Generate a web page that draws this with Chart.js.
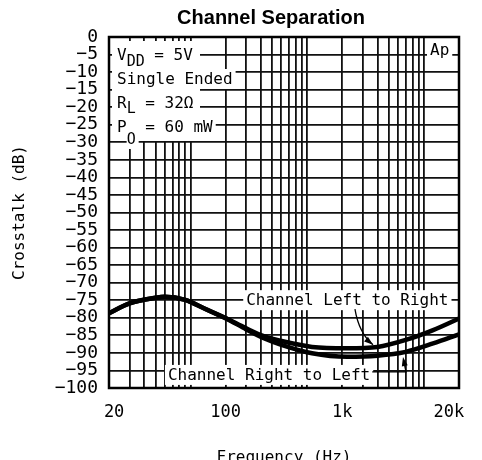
<!DOCTYPE html>
<html>
<head>
<meta charset="utf-8">
<script src="https://cdn.jsdelivr.net/npm/chart.js@4.4.1/dist/chart.umd.min.js"></script>
<style>
  html, body { margin: 0; padding: 0; background: #fff; }
</style>
</head>
<body>
<canvas id="chart" width="482" height="460"></canvas>
<script>
// curve samples (Hz, dB)
const freqs = [20, 30, 50, 60, 90, 130, 200, 300, 430, 600, 1100, 2200, 4000, 7000, 12000, 20000];
const leftToRight = [-78.7, -75.9, -74.3, -74.0, -74.9, -77.3, -80.1, -83.0, -85.3, -86.6, -88.3, -88.7, -88.3, -86.3, -83.5, -80.2];
const rightToLeft = [-78.7, -75.9, -74.3, -74.0, -74.9, -77.3, -80.1, -83.3, -85.9, -87.7, -90.1, -91.1, -90.8, -89.7, -87.3, -84.7];

// log grid lines, and the labels as they sit on the original sheet
const gridFreqs = [20, 30, 40, 50, 60, 70, 80, 90, 100, 200, 300, 400, 500, 600, 700, 800, 900,
    1000, 2000, 3000, 4000, 5000, 6000, 7000, 8000, 9000, 10000, 20000];
const xTickValues = [20, 200, 2000, 20000];
const xTickText = [" 20", "100", "1k", "20k  "];

const conditions = [
    ["V", "DD", " = 5V"],
    ["Single Ended", "", ""],
    ["R", "L", " = 32\u03a9"],
    ["P", "O", " = 60 mW"],
];

const MONO = '"DejaVu Sans Mono", monospace';

function boxText(ctx, text, x, yBase, padL) {
    const w = ctx.measureText(text).width;
    ctx.fillStyle = "#fff";
    ctx.fillRect(x - padL, yBase - 15, w + padL + 3, 20);
    ctx.fillStyle = "#000";
    ctx.fillText(text, x, yBase);
    return w;
}

function arrowHead(ctx, fx, fy, tx, ty) {
    const ang = Math.atan2(ty - fy, tx - fx);
    const len = 9, half = 3;
    const bx = tx - len * Math.cos(ang), by = ty - len * Math.sin(ang);
    ctx.beginPath();
    ctx.moveTo(tx, ty);
    ctx.lineTo(bx + half * Math.sin(ang), by - half * Math.cos(ang));
    ctx.lineTo(bx - half * Math.sin(ang), by + half * Math.cos(ang));
    ctx.closePath();
    ctx.fill();
}

const notes = {
    id: "notes",
    afterDatasetsDraw(chart) {
        const { ctx, chartArea: a, scales: { x, y } } = chart;
        const pt = (f, db) => [x.getPixelForValue(f), y.getPixelForValue(db)];
        ctx.save();
        ctx.textBaseline = "alphabetic";
        ctx.textAlign = "left";

        // white block behind the test conditions
        ctx.fillStyle = "#fff";
        ctx.fillRect(a.left + 3, a.top + 4, 88, 100);

        ctx.font = "16px " + MONO;
        const subDrop = [6, 0, 5, 12];
        conditions.forEach((row, i) => {
            let cx = a.left + 8;
            const base = a.top + 23 + 24 * i;
            cx += boxText(ctx, row[0], cx, base, 3);
            if (row[1]) {
                ctx.font = "15px " + MONO;
                cx += boxText(ctx, row[1], cx, base + subDrop[i], 0);
                ctx.font = "16px " + MONO;
            }
            if (row[2]) boxText(ctx, row[2], cx, base, 0);
        });

        boxText(ctx, "Ap", a.right - 29, a.top + 18, 3);

        let p = pt(300, -76.4);
        boxText(ctx, "Channel Left to Right", p[0], p[1], 3);
        p = pt(64, -97.7);
        const w = boxText(ctx, "Channel Right to Left", p[0], p[1], 3);

        // leaders
        ctx.strokeStyle = "#000";
        ctx.fillStyle = "#000";
        ctx.lineWidth = 1.3;
        const s = pt(2566, -77.5), e = pt(3664, -87.7);
        ctx.beginPath();
        ctx.moveTo(s[0], s[1]);
        ctx.quadraticCurveTo(s[0] + 4, s[1] + 24, e[0], e[1]);
        ctx.stroke();
        arrowHead(ctx, s[0] + 6, s[1] + 26, e[0], e[1]);

        const c = pt(7026, -95.4), t = pt(6620, -91.2);
        ctx.beginPath();
        ctx.moveTo(p[0] + w + 2, c[1]);
        ctx.lineTo(c[0], c[1]);
        ctx.lineTo(t[0] + 1, t[1] + 5);
        ctx.stroke();
        arrowHead(ctx, c[0], c[1], t[0], t[1]);
        ctx.restore();
    },
    afterDraw(chart) {
        const { ctx, chartArea: a } = chart;
        ctx.save();
        ctx.strokeStyle = "#000";
        ctx.lineWidth = 2.5;
        ctx.strokeRect(a.left, a.top, a.right - a.left, a.bottom - a.top);
        ctx.fillStyle = "#000";
        ctx.font = 'bold 20px "Liberation Sans", Arial, sans-serif';
        ctx.textAlign = "center";
        ctx.textBaseline = "alphabetic";
        ctx.fillText("Channel Separation", a.left + 162, 24);
        ctx.restore();
    },
};

const ctx = document.getElementById("chart").getContext("2d");

new Chart(ctx, {
    type: "line",
    data: {
        datasets: [
            {
                label: "Channel Left to Right",
                data: freqs.map((f, i) => ({ x: f, y: leftToRight[i] })),
                borderColor: "#000",
                borderWidth: 4.5,
                pointRadius: 0,
                cubicInterpolationMode: "monotone",
                fill: false,
            },
            {
                label: "Channel Right to Left",
                data: freqs.map((f, i) => ({ x: f, y: rightToLeft[i] })),
                borderColor: "#000",
                borderWidth: 4.5,
                pointRadius: 0,
                cubicInterpolationMode: "monotone",
                fill: false,
            },
        ],
    },
    options: {
        responsive: false,
        animation: false,
        layout: { padding: { top: 37, right: 23, left: 0, bottom: 0 } },
        plugins: {
            legend: { display: false },
            tooltip: { enabled: false },
            title: { display: false },
        },
        scales: {
            x: {
                type: "logarithmic",
                min: 20,
                max: 20000,
                afterBuildTicks: (scale) => {
                    scale.ticks = gridFreqs.map((v) => ({ value: v }));
                },
                afterFit: (scale) => {
                    scale.height = 72;
                    scale.paddingLeft = 0;
                    scale.paddingRight = 0;
                },
                grid: { color: "#111", lineWidth: 1.8, drawTicks: false },
                border: { display: false },
                ticks: {
                    autoSkip: false,
                    maxRotation: 0,
                    minRotation: 0,
                    padding: 14,
                    color: "#000",
                    font: { family: MONO, size: 17 },
                    callback: (value) => {
                        const k = xTickValues.indexOf(value);
                        return k >= 0 ? xTickText[k] : "";
                    },
                },
                title: {
                    display: true,
                    text: "Frequency (Hz)",
                    color: "#000",
                    font: { family: MONO, size: 16, lineHeight: 0.25 },
                    padding: { top: 0, bottom: 0 },
                },
            },
            y: {
                min: -100,
                max: 0,
                afterFit: (scale) => {
                    scale.width = 109;
                    scale.paddingTop = 0;
                    scale.paddingBottom = 0;
                },
                grid: { color: "#111", lineWidth: 1.8, drawTicks: false },
                border: { display: false },
                ticks: {
                    stepSize: 5,
                    autoSkip: false,
                    padding: 11,
                    color: "#000",
                    font: { family: MONO, size: 18, lineHeight: 1 },
                    callback: (v) => (v < 0 ? "\u2212" + Math.abs(v) : String(v)),
                },
                title: {
                    display: true,
                    text: "Crosstalk (dB)",
                    color: "#000",
                    font: { family: MONO, size: 16 },
                    padding: { top: 10, bottom: 0 },
                },
            },
        },
    },
    plugins: [notes],
});
</script>
</body>
</html>
